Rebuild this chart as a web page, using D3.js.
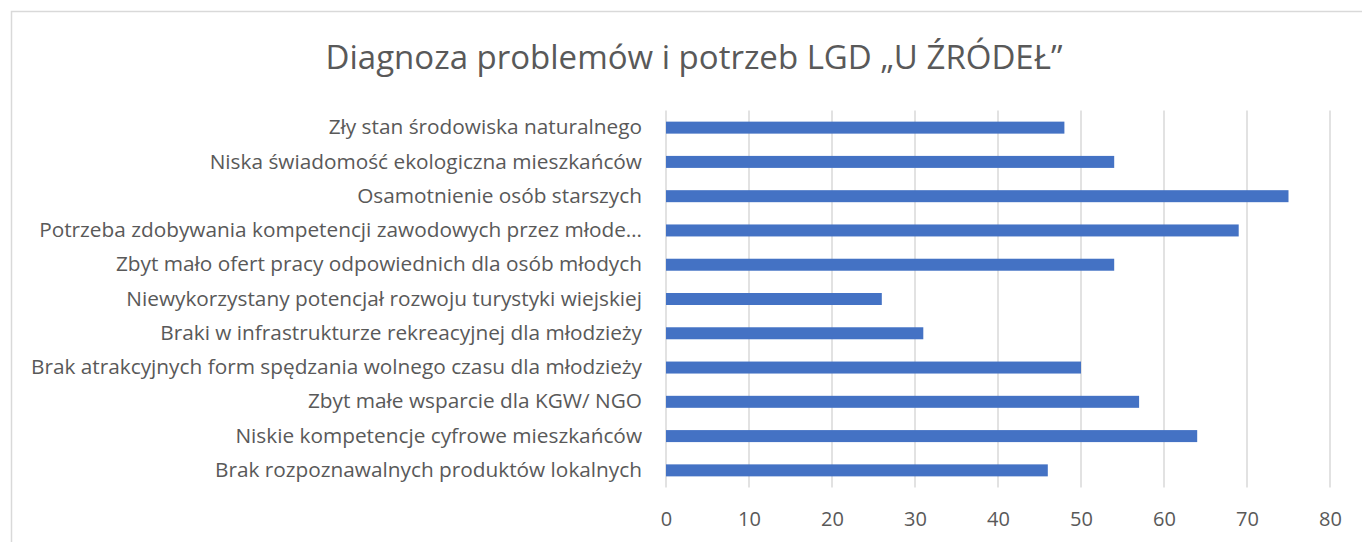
<!DOCTYPE html>
<html>
<head>
<meta charset="utf-8">
<script src="https://cdn.jsdelivr.net/npm/d3@7"></script>
<style>
  body { margin: 0; background: #fff; }
  text { font-family: "Open Sans", sans-serif; fill: #595959; }
</style>
</head>
<body>
<div id="chart"></div>
<script>
var title = "Diagnoza problemów i potrzeb LGD \u201eU ŹRÓDEŁ\u201d";

var categories = [
  "Zły stan środowiska naturalnego",
  "Niska świadomość ekologiczna mieszkańców",
  "Osamotnienie osób starszych",
  "Potrzeba zdobywania kompetencji zawodowych przez młode\u2026",
  "Zbyt mało ofert pracy odpowiednich dla osób młodych",
  "Niewykorzystany potencjał rozwoju turystyki wiejskiej",
  "Braki w infrastrukturze rekreacyjnej dla młodzieży",
  "Brak atrakcyjnych form spędzania wolnego czasu dla młodzieży",
  "Zbyt małe wsparcie dla KGW/ NGO",
  "Niskie kompetencje cyfrowe mieszkańców",
  "Brak rozpoznawalnych produktów lokalnych"
];

var values = [48, 54, 75, 69, 54, 26, 31, 50, 57, 64, 46];

var xTicks = [0, 10, 20, 30, 40, 50, 60, 70, 80];

var chartWidth = 1362,
	chartHeight = 542,
	plot = { left: 666, right: 1330, top: 110.5, bottom: 487.5 },
	barColor = "#4472c4",
	gridColor = "#d9d9d9";

var svg = d3.select("#chart")
	.append("svg")
	.attr("width", chartWidth)
	.attr("height", chartHeight);

// outer frame (cut off at right / bottom like the original)
svg.append("rect")
	.attr("x", 11.5)
	.attr("y", 11.5)
	.attr("width", chartWidth + 20)
	.attr("height", chartHeight + 20)
	.style("fill", "#fff")
	.style("stroke", "#d9d9d9")
	.style("stroke-width", 1.5);

var x = d3.scaleLinear().domain([0, 80]).range([plot.left, plot.right]);
var y = d3.scaleBand().domain(categories).range([plot.top, plot.bottom]).paddingInner(0.65).paddingOuter(0.325);

// grid
svg.append("g")
	.selectAll("line")
	.data(xTicks)
	.enter()
	.append("line")
	.attr("x1", function(d) { return x(d); })
	.attr("x2", function(d) { return x(d); })
	.attr("y1", plot.top)
	.attr("y2", plot.bottom)
	.style("stroke", gridColor)
	.style("stroke-width", 1.5);

// bars
svg.append("g")
	.selectAll("rect")
	.data(values)
	.enter()
	.append("rect")
	.attr("x", x(0))
	.attr("y", function(d, i) { return y(categories[i]); })
	.attr("width", function(d) { return x(d) - x(0); })
	.attr("height", y.bandwidth())
	.style("fill", barColor);

// x axis labels
var xAxis = svg.append("g")
	.attr("transform", "translate(0," + plot.bottom + ")")
	.call(d3.axisBottom(x).tickValues(xTicks).tickSize(0).tickPadding(24));
xAxis.select(".domain").remove();
xAxis.selectAll("text")
	.style("font-size", "20px")
	.style("font-family", "\"Open Sans\", sans-serif")
	.style("fill", "#595959");

// y axis labels
var yAxis = svg.append("g")
	.attr("transform", "translate(" + plot.left + ",0)")
	.call(d3.axisLeft(y).tickSize(0).tickPadding(24));
yAxis.select(".domain").remove();
yAxis.selectAll("text")
	.style("font-size", "20.8px")
	.style("font-family", "\"Open Sans\", sans-serif")
	.style("fill", "#595959");

// title
svg.append("text")
	.attr("x", 694)
	.attr("y", 69)
	.attr("text-anchor", "middle")
	.style("font-size", "33px")
	.text(title);
</script>
</body>
</html>
